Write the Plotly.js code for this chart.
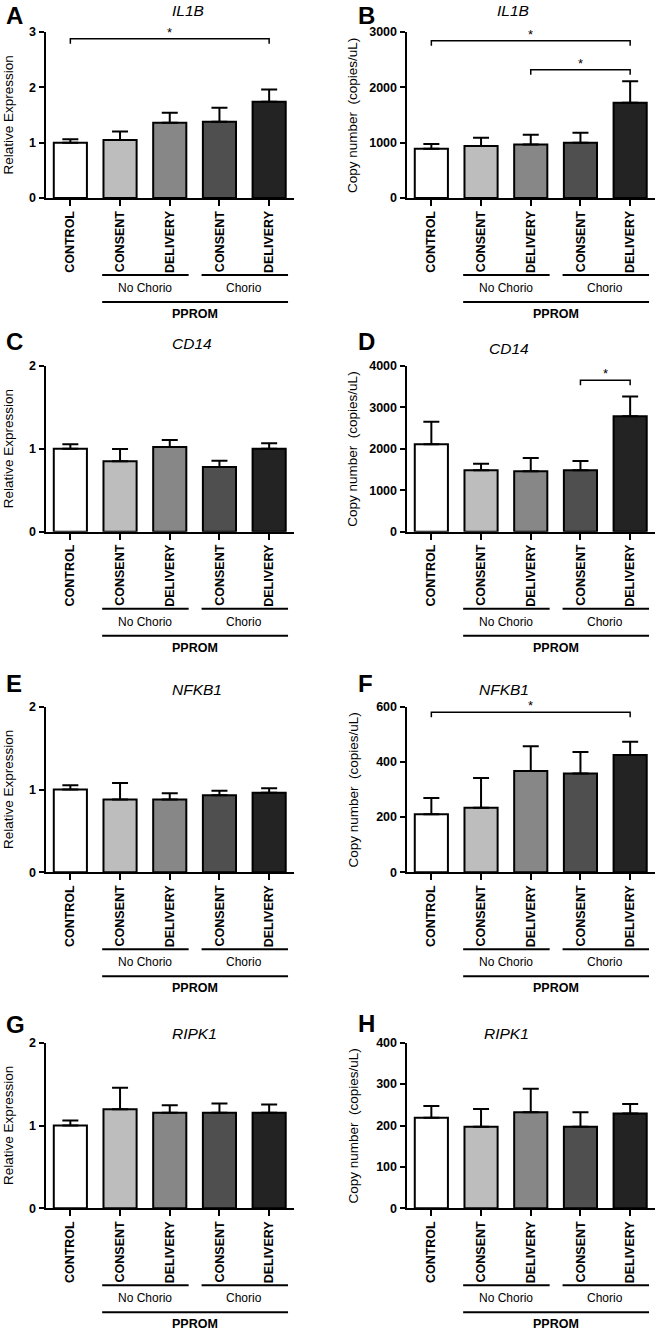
<!DOCTYPE html>
<html>
<head>
<meta charset="utf-8">
<script src="https://cdn.plot.ly/plotly-3.0.1.min.js"></script>
<style>
  html, body { margin: 0; padding: 0; background: #fff; }
  #fig { width: 660px; height: 1331px; }
</style>
</head>
<body>
<div id="fig"></div>
<script>
// ---- data ------------------------------------------------------------------
const groups = ["CONTROL", "CONSENT", "DELIVERY", "CONSENT", "DELIVERY"];
const subGroups = ["No Chorio", "Chorio"];
const outerGroup = "PPROM";

// mean and SEM (upper whisker only) per panel
const il1bRel      = [1.00, 1.05, 1.36, 1.38, 1.74];
const il1bRelSem   = [0.06, 0.15, 0.18, 0.25, 0.22];
const il1bCopy     = [890, 940, 965, 1000, 1720];
const il1bCopySem  = [85, 150, 180, 180, 390];
const cd14Rel      = [1.00, 0.85, 1.02, 0.78, 1.00];
const cd14RelSem   = [0.055, 0.145, 0.085, 0.075, 0.065];
const cd14Copy     = [2110, 1480, 1455, 1480, 2780];
const cd14CopySem  = [540, 160, 320, 225, 475];
const nfkb1Rel     = [1.00, 0.88, 0.88, 0.93, 0.96];
const nfkb1RelSem  = [0.05, 0.20, 0.075, 0.055, 0.055];
const nfkb1Copy    = [210, 234, 367, 358, 425];
const nfkb1CopySem = [59, 108, 90, 78, 48];
const ripk1Rel     = [1.00, 1.195, 1.155, 1.155, 1.155];
const ripk1RelSem  = [0.06, 0.26, 0.09, 0.11, 0.10];
const ripk1Copy    = [219, 197, 232, 197, 229];
const ripk1CopySem = [28, 43, 57, 35, 23];

// significance brackets: [from group, to group, height in data units]
const il1bRelSig   = [[0, 4, 2.88]];
const il1bCopySig  = [[0, 4, 2840], [2, 4, 2320]];
const cd14CopySig  = [[3, 4, 3650]];
const nfkb1CopySig = [[0, 4, 580]];

const letters = ["A", "B", "C", "D", "E", "F", "G", "H"];
const genes = ["IL1B", "IL1B", "CD14", "CD14", "NFKB1", "NFKB1", "RIPK1", "RIPK1"];
const yTitles = ["Relative Expression", "Copy number\u00a0 (copies/uL)"];

// ---- styling ---------------------------------------------------------------
const W = 660, H = 1331;
const FAM = "Liberation Sans, Arial, Helvetica, sans-serif";
const barColors = ["#ffffff", "#bdbdbd", "#878787", "#4f4f4f", "#232323"];
const colX = [[45.5, 294], [406.5, 655]];          // plot area, px
const rowY = [[32, 198], [365.7, 531.7], [706.7, 872.3], [1042.7, 1208.3]];
const titleY = [10, 10, 343, 348, 689, 689, 1033, 1033];
const letterY = [15, 15, 341, 342, 683, 683, 1024, 1023];

const px = (p) => p / W;
const py = (p) => 1 - p / H;

const panels = [
  { y: il1bRel,   sem: il1bRelSem,   max: 3,    dtick: 1,    sig: il1bRelSig },
  { y: il1bCopy,  sem: il1bCopySem,  max: 3000, dtick: 1000, sig: il1bCopySig },
  { y: cd14Rel,   sem: cd14RelSem,   max: 2,    dtick: 1,    sig: [] },
  { y: cd14Copy,  sem: cd14CopySem,  max: 4000, dtick: 1000, sig: cd14CopySig },
  { y: nfkb1Rel,  sem: nfkb1RelSem,  max: 2,    dtick: 1,    sig: [] },
  { y: nfkb1Copy, sem: nfkb1CopySem, max: 600,  dtick: 200,  sig: nfkb1CopySig },
  { y: ripk1Rel,  sem: ripk1RelSem,  max: 2,    dtick: 1,    sig: [] },
  { y: ripk1Copy, sem: ripk1CopySem, max: 400,  dtick: 100,  sig: [] },
];

const idx = groups.map((_, i) => i);
const traces = [];
const layout = {
  width: W, height: H,
  margin: { l: 0, r: 0, t: 0, b: 0 },
  paper_bgcolor: "#fff", plot_bgcolor: "#fff",
  font: { family: FAM, color: "#000", size: 12 },
  showlegend: false,
  bargap: 0,
  shapes: [],
  annotations: [],
};

panels.forEach((p, k) => {
  const n = k + 1, col = k % 2, row = Math.floor(k / 2);
  const xa = "x" + n, ya = "y" + n;
  const [x0, x1] = colX[col];
  const [yTop, yBot] = rowY[row];

  traces.push({
    type: "bar", x: idx, y: p.y, width: 0.667,
    xaxis: xa, yaxis: ya,
    marker: { color: barColors, line: { color: "#000", width: 2 } },
    error_y: {
      type: "data", symmetric: false, array: p.sem, arrayminus: idx.map(() => 0),
      color: "#000", thickness: 2, width: 8,
    },
    hoverinfo: "skip",
  });

  layout["xaxis" + n] = {
    domain: [px(x0), px(x1)], anchor: ya,
    range: [-0.5, 4.5], tickmode: "array", tickvals: idx, ticktext: groups,
    tickangle: -90, tickfont: { family: FAM, size: 12.5, weight: 700 },
    ticks: "outside", ticklen: 6, tickwidth: 2, tickcolor: "#000",
    showline: true, linewidth: 2, linecolor: "#000",
    showgrid: false, zeroline: false, fixedrange: true,
  };
  layout["yaxis" + n] = {
    domain: [py(yBot), py(yTop)], anchor: xa,
    range: [0, p.max], dtick: p.dtick, tick0: 0,
    tickfont: { family: FAM, size: 12.5, weight: 700 },
    ticks: "outside", ticklen: 5, tickwidth: 2, tickcolor: "#000",
    showline: true, linewidth: 2, linecolor: "#000",
    showgrid: false, zeroline: false, fixedrange: true,
  };

  // gene title, panel letter, y title
  layout.annotations.push({
    xref: "paper", yref: "paper", x: px((x0 + x1) / 2), y: py(titleY[k]),
    text: "<i>" + genes[k] + "</i>", showarrow: false, yanchor: "middle",
    font: { family: FAM, size: 15.5 },
  });
  layout.annotations.push({
    xref: "paper", yref: "paper", x: px(col ? 356 : 4), y: py(letterY[k]),
    text: "<b>" + letters[k] + "</b>", showarrow: false,
    xanchor: "left", yanchor: "middle", font: { family: FAM, size: 24 },
  });
  layout.annotations.push({
    xref: "paper", yref: "paper", x: px(col ? 353 : 8.5), y: py((yTop + yBot) / 2),
    text: yTitles[col], textangle: -90, showarrow: false,
    xanchor: "center", yanchor: "middle", font: { family: FAM, size: 13.5 },
  });

  // grouping lines under the axis
  const line = (a, b, yp) => layout.shapes.push({
    type: "line", xref: xa, yref: "paper", x0: a, x1: b, y0: py(yp), y1: py(yp),
    line: { color: "#000", width: 2 },
  });
  line(0.64, 2.38, yBot + 77);
  line(2.64, 4.38, yBot + 77);
  line(0.64, 4.38, yBot + 104);
  [1.5, 3.5].forEach((c, j) => layout.annotations.push({
    xref: xa, yref: "paper", x: c, y: py(yBot + 90), text: subGroups[j],
    showarrow: false, yanchor: "middle", font: { family: FAM, size: 12 },
  }));
  layout.annotations.push({
    xref: xa, yref: "paper", x: 2.5, y: py(yBot + 116), text: "<b>" + outerGroup + "</b>",
    showarrow: false, yanchor: "middle", font: { family: FAM, size: 12.5 },
  });

  // significance brackets
  const tickD = p.max * 5 / (yBot - yTop);
  p.sig.forEach(([a, b, h]) => {
    layout.shapes.push({
      type: "path", xref: xa, yref: ya,
      path: `M${a},${h - tickD} L${a},${h} L${b},${h} L${b},${h - tickD}`,
      line: { color: "#000", width: 1.5 },
    });
    layout.annotations.push({
      xref: xa, yref: ya, x: (a + b) / 2, y: h, text: "*", showarrow: false,
      yanchor: "bottom", yshift: -3, font: { family: FAM, size: 13 },
    });
  });
});

Plotly.newPlot("fig", traces, layout, { displayModeBar: false, staticPlot: true });
</script>
</body>
</html>
